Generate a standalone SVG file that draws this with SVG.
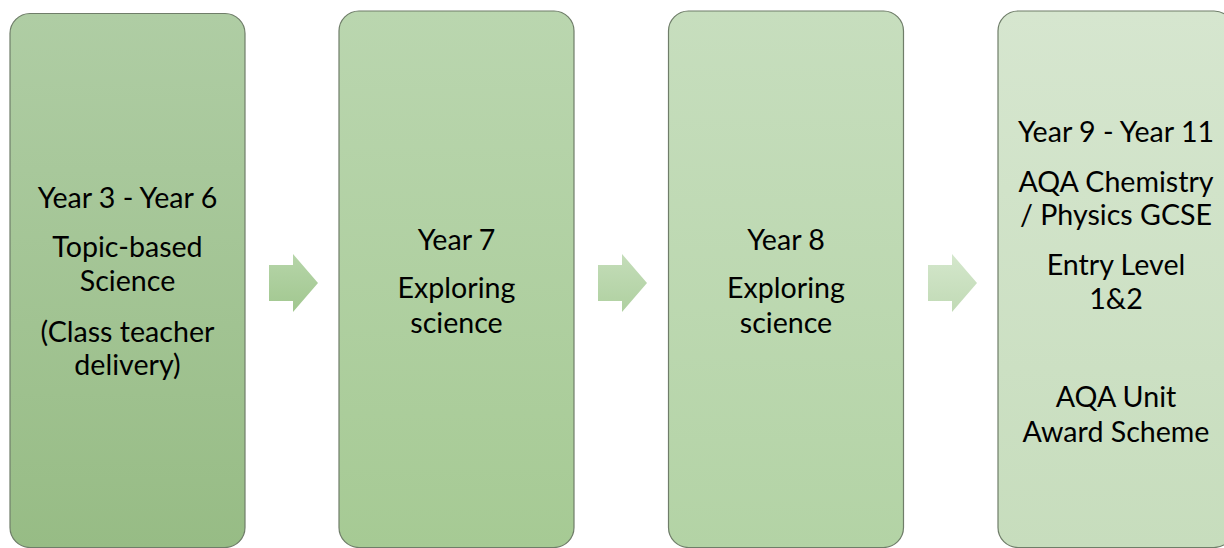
<svg xmlns="http://www.w3.org/2000/svg" width="1224" height="548" viewBox="0 0 1224 548">
  <defs>
    <linearGradient id="g1" x1="0" y1="0" x2="0" y2="1">
      <stop offset="0" stop-color="#AFCDA4"/>
      <stop offset="1" stop-color="#97BC85"/>
    </linearGradient>
    <linearGradient id="g2" x1="0" y1="0" x2="0" y2="1">
      <stop offset="0" stop-color="#BAD6AF"/>
      <stop offset="1" stop-color="#A6CA94"/>
    </linearGradient>
    <linearGradient id="g3" x1="0" y1="0" x2="0" y2="1">
      <stop offset="0" stop-color="#C7DEBE"/>
      <stop offset="1" stop-color="#B3D3A5"/>
    </linearGradient>
    <linearGradient id="g4" x1="0" y1="0" x2="0" y2="1">
      <stop offset="0" stop-color="#D6E6CF"/>
      <stop offset="1" stop-color="#C7DDBD"/>
    </linearGradient>
    <linearGradient id="a1" x1="0" y1="0" x2="0" y2="1">
      <stop offset="0" stop-color="#B6D5A9"/>
      <stop offset="1" stop-color="#A1C78F"/>
    </linearGradient>
    <linearGradient id="a2" x1="0" y1="0" x2="0" y2="1">
      <stop offset="0" stop-color="#C4DDB9"/>
      <stop offset="1" stop-color="#AFD0A0"/>
    </linearGradient>
    <linearGradient id="a3" x1="0" y1="0" x2="0" y2="1">
      <stop offset="0" stop-color="#D4E7CC"/>
      <stop offset="1" stop-color="#C1DAB5"/>
    </linearGradient>
    <polygon id="arrow" points="0,11 24,11 24,0 49,29 24,58 24,47 0,47"/>
  </defs>
  <style>
    .box { stroke: #6F7D69; stroke-width: 1.2; }
    .label { font-family: Lato, "Open Sans", sans-serif; font-size: 28.6px; fill: #000000; text-anchor: middle; }
  </style>

  <g id="connectors">
    <use href="#arrow" x="269" y="254" fill="url(#a1)"/>
    <use href="#arrow" x="598" y="254" fill="url(#a2)"/>
    <use href="#arrow" x="928" y="254" fill="url(#a3)"/>
  </g>

  <g id="node-year3-6">
    <rect class="box" x="10" y="13.5" width="235" height="534" rx="20" fill="url(#g1)"/>
    <text class="label" x="127.5" y="208">Year 3 - Year 6</text>
    <text class="label" x="127.5" y="257">Topic-based</text>
    <text class="label" x="127.5" y="291">Science</text>
    <text class="label" x="127.5" y="342">(Class teacher</text>
    <text class="label" x="127.5" y="375">delivery)</text>
  </g>

  <g id="node-year7">
    <rect class="box" x="339" y="11" width="235" height="536.5" rx="20" fill="url(#g2)"/>
    <text class="label" x="456.5" y="250">Year 7</text>
    <text class="label" x="456.5" y="298">Exploring</text>
    <text class="label" x="456.5" y="333">science</text>
  </g>

  <g id="node-year8">
    <rect class="box" x="668.5" y="11" width="235" height="536.5" rx="20" fill="url(#g3)"/>
    <text class="label" x="786" y="250">Year 8</text>
    <text class="label" x="786" y="298">Exploring</text>
    <text class="label" x="786" y="333">science</text>
  </g>

  <g id="node-year9-11">
    <rect class="box" x="998" y="11" width="236" height="536.5" rx="20" fill="url(#g4)"/>
    <text class="label" x="1116" y="142">Year 9 - Year 11</text>
    <text class="label" x="1116" y="192">AQA Chemistry</text>
    <text class="label" x="1116" y="225">/ Physics GCSE</text>
    <text class="label" x="1116" y="275">Entry Level</text>
    <text class="label" x="1116" y="309">1&amp;2</text>
    <text class="label" x="1116" y="407">AQA Unit</text>
    <text class="label" x="1116" y="442">Award Scheme</text>
  </g>
</svg>
